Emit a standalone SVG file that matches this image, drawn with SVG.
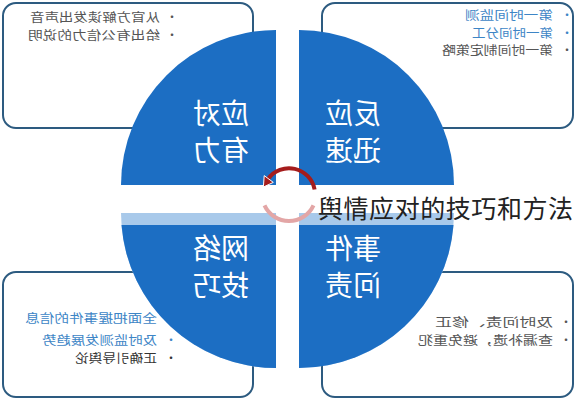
<svg xmlns="http://www.w3.org/2000/svg" width="575" height="400" viewBox="0 0 575 400">
<style>
.box{fill:#ffffff;stroke:#2d5b80;stroke-width:2}
.q{fill:#1c6ec3}
.ql{fill:#a8c9ea}
.lbl{font-family:"Noto Sans CJK SC","Noto Sans",sans-serif;font-size:28px;fill:#ffffff;text-anchor:middle}
.t{font-family:"Noto Sans CJK SC","Noto Sans",sans-serif;font-size:12px}
.g{fill:#555555}
.d{fill:#333333}
.b{fill:#3d85c6}
.title{font-family:"Noto Sans CJK SC","Noto Sans",sans-serif;font-size:25px;fill:#222222}
</style>
<rect width="575" height="400" fill="#ffffff"/>
<g id="box-top-left">
<rect class="box" x="3" y="3" width="250" height="125" rx="13"/>
<text class="t g" transform="translate(160,22) scale(-1,1)" textLength="130" lengthAdjust="spacingAndGlyphs">从官方解读发出声音</text>
<text class="t g" x="166" y="22">•</text>
<text class="t g" transform="translate(160,40) scale(-1,1)" textLength="132" lengthAdjust="spacingAndGlyphs">给出有公信力的说明</text>
<text class="t g" x="166" y="40">•</text>
</g>
<g id="box-top-right">
<rect class="box" x="322" y="3" width="251" height="125" rx="13"/>
<text class="t b" transform="translate(553,20) scale(-1,1)" textLength="88" lengthAdjust="spacingAndGlyphs">第一时间监测</text>
<text class="t b" x="561" y="20">•</text>
<text class="t b" transform="translate(553,37.5) scale(-1,1)" textLength="81" lengthAdjust="spacingAndGlyphs">第一时间分工</text>
<text class="t b" x="561" y="37.5">•</text>
<text class="t g" transform="translate(553,55) scale(-1,1)" textLength="111" lengthAdjust="spacingAndGlyphs">第一时间制定策略</text>
<text class="t g" x="561" y="55">•</text>
</g>
<g id="box-bottom-left">
<rect class="box" x="3" y="272" width="250" height="125" rx="13"/>
<text class="t b" transform="translate(157,323) scale(-1,1)" textLength="132" lengthAdjust="spacingAndGlyphs">全面把握事件的信息</text>
<text class="t b" x="165" y="323">•</text>
<text class="t b" transform="translate(157,345) scale(-1,1)" textLength="115" lengthAdjust="spacingAndGlyphs">及时监测发展趋势</text>
<text class="t b" x="165" y="345">•</text>
<text class="t d" transform="translate(157,363) scale(-1,1)" textLength="82" lengthAdjust="spacingAndGlyphs">正确引导舆论</text>
<text class="t d" x="165" y="363">•</text>
</g>
<g id="box-bottom-right">
<rect class="box" x="322" y="272" width="251" height="125" rx="13"/>
<text class="t g" transform="translate(553,327) scale(-1,1)" textLength="118" lengthAdjust="spacingAndGlyphs">及时问责、修正</text>
<text class="t g" x="560" y="327">•</text>
<text class="t g" transform="translate(553,345) scale(-1,1)" textLength="135" lengthAdjust="spacingAndGlyphs">查漏补遗，避免重犯</text>
<text class="t g" x="560" y="345">•</text>
</g>
<g id="quadrant-top-left">
<path class="q" d="M276,185 L121,185 A155,155 0 0 1 276,30 Z"/>
<text class="lbl" transform="translate(221,124) scale(-1,1)">应对</text>
<text class="lbl" transform="translate(221,161) scale(-1,1)">有力</text>
</g>
<g id="quadrant-top-right">
<path class="q" d="M299,185 L299,30 A155,155 0 0 1 454,185 Z"/>
<text class="lbl" transform="translate(353,124) scale(-1,1)">反应</text>
<text class="lbl" transform="translate(353,161) scale(-1,1)">迅速</text>
</g>
<g id="quadrant-bottom-left">
<path class="ql" d="M276,213 L276,368 A155,155 0 0 1 121,213 Z"/>
<path class="q" d="M276,225 L276,368 A155,155 0 0 1 121.5,225 Z"/>
<text class="lbl" transform="translate(221,259) scale(-1,1)">网络</text>
<text class="lbl" transform="translate(221,296) scale(-1,1)">技巧</text>
</g>
<g id="quadrant-bottom-right">
<path class="ql" d="M299,213 L454,213 A155,155 0 0 1 299,368 Z"/>
<path class="q" d="M299,225 L453.5,225 A155,155 0 0 1 299,368 Z"/>
<text class="lbl" transform="translate(353,259) scale(-1,1)">事件</text>
<text class="lbl" transform="translate(353,296) scale(-1,1)">问责</text>
</g>
<g id="connectors">
<path d="M314.6,189.5 A26,26 0 0 0 268,179" fill="none" stroke="#a51c1c" stroke-width="4"/>
<polygon points="263.4,187 273.3,182.4 264.2,175.6" fill="#a51c1c" stroke="#ffffff" stroke-width="1"/>
<path d="M264.5,205.4 A27,27 0 0 0 313.5,205.4" fill="none" stroke="#e3a6a6" stroke-width="4"/>
</g>
<g id="title">
<text class="title" x="318" y="218" textLength="255">舆情应对的技巧和方法</text>
</g>
</svg>
